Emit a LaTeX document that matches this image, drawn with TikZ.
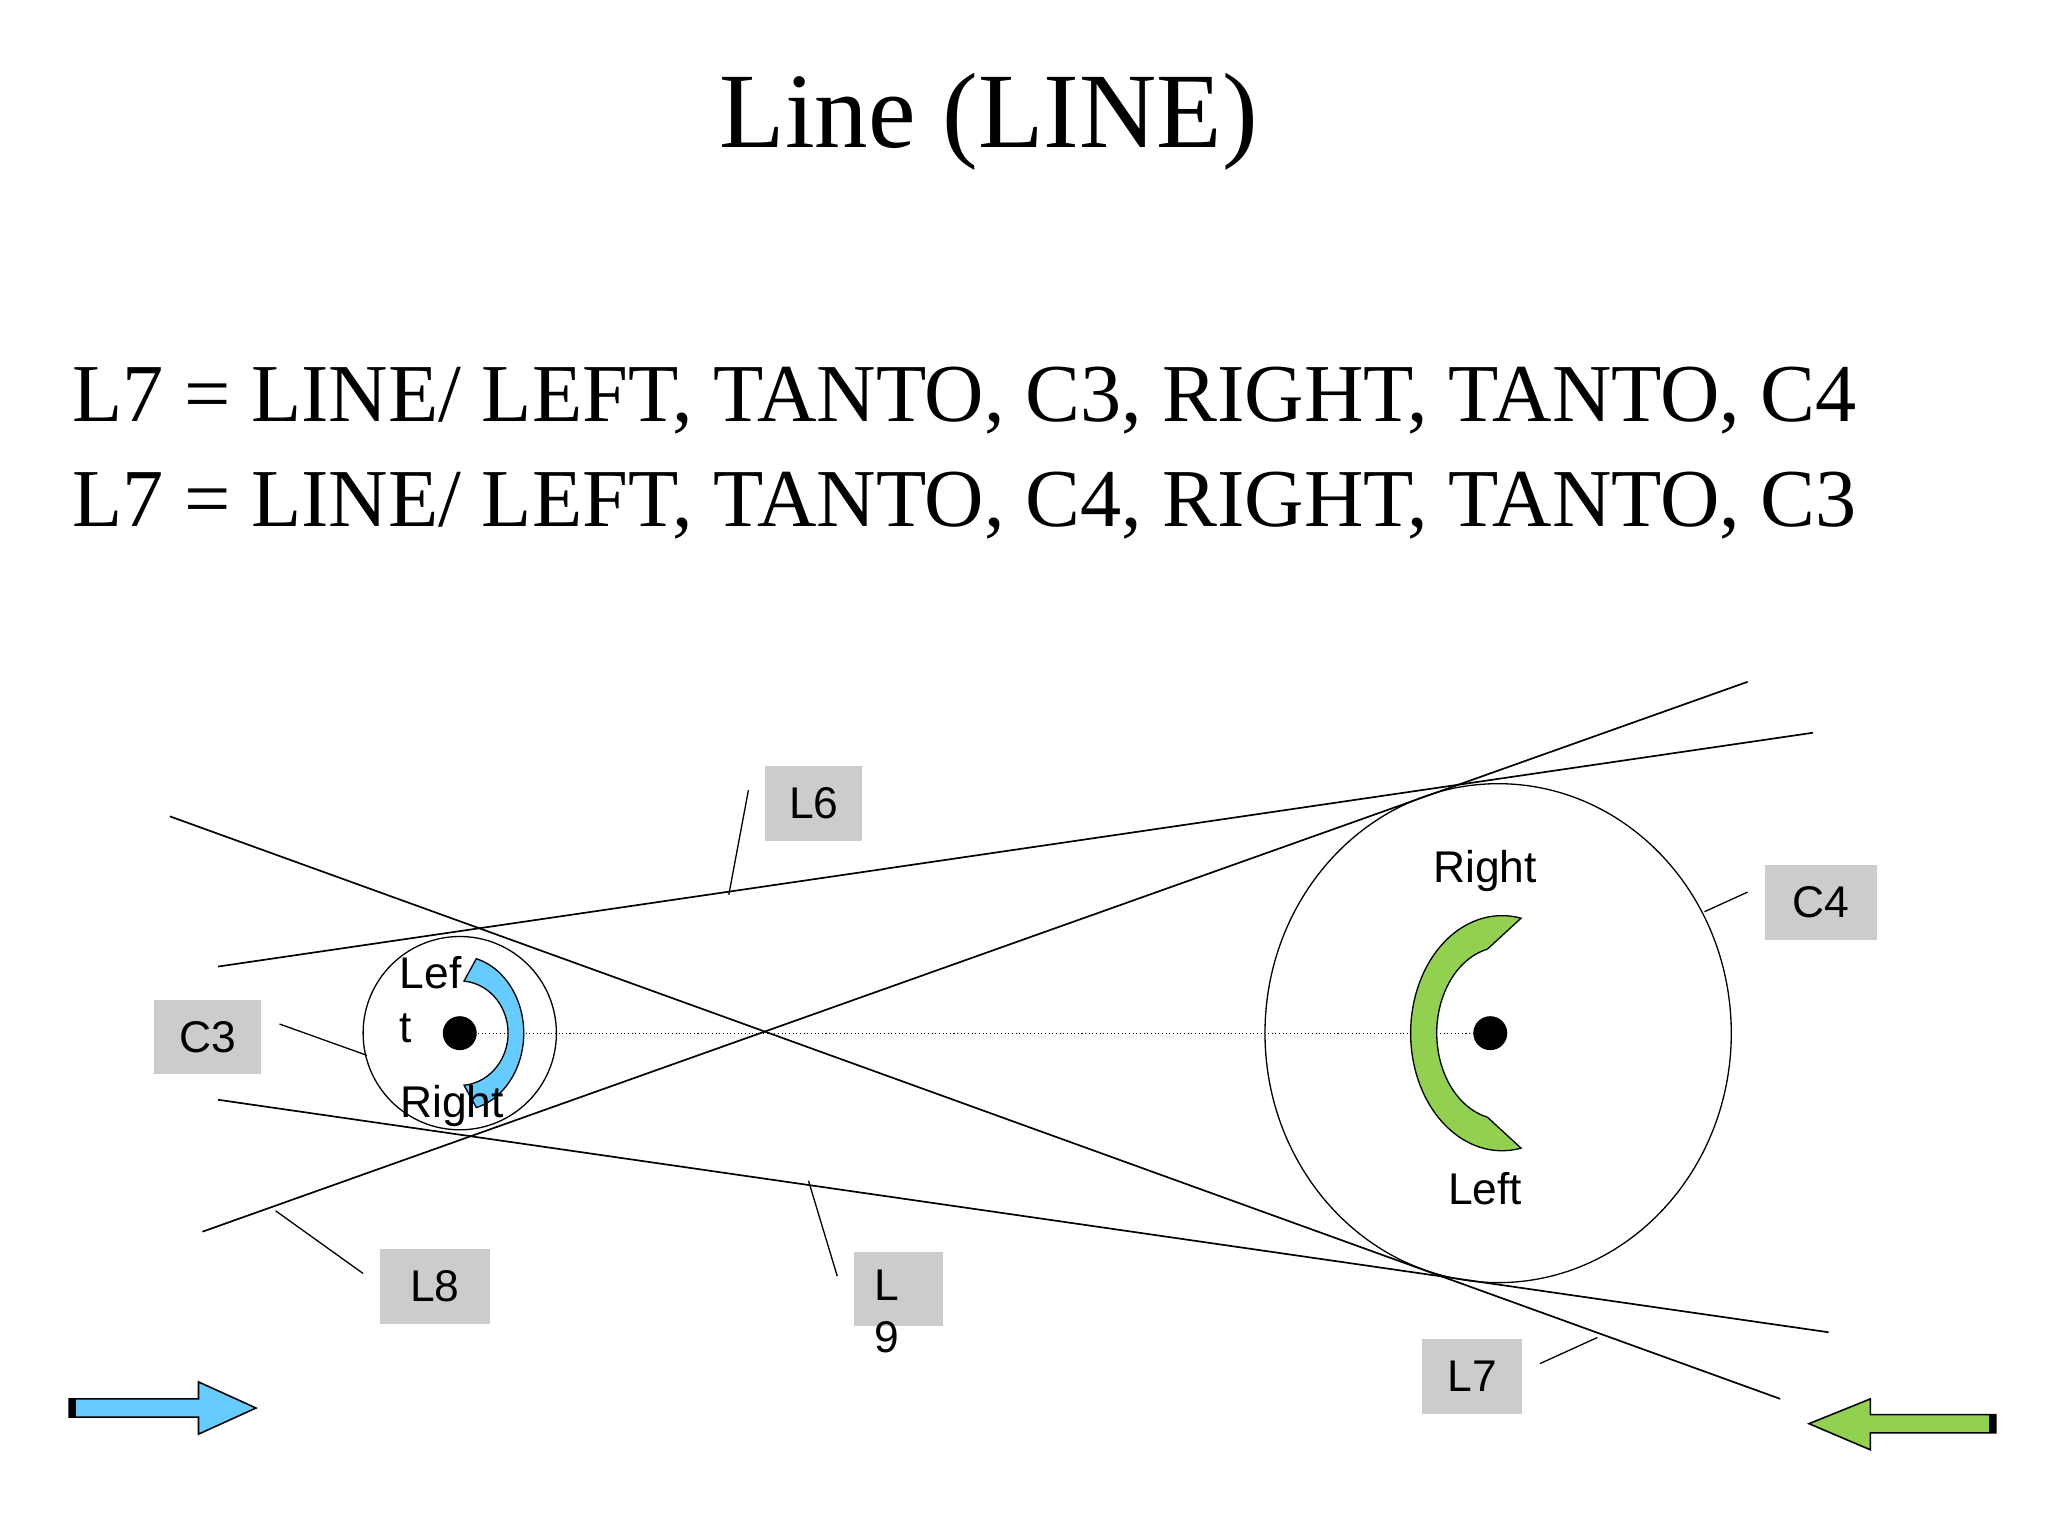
\documentclass[tikz,border=0pt]{standalone}
\usepackage{fontspec}
\setmainfont{Liberation Serif}
\newfontfamily\arialf{Liberation Sans}
\usetikzlibrary{shapes.geometric,calc}
\begin{document}
\begin{tikzpicture}[x=1pt,y=-1pt,
  lbl/.style={fill=black!20,minimum width=76pt,minimum height=57pt,font=\arialf\fontsize{34}{36}\selectfont,inner sep=0pt},
  txt/.style={font=\arialf\fontsize{34}{34}\selectfont,inner sep=0pt},
  ln/.style={line width=1.3pt},
  ld/.style={line width=1pt}]
\useasboundingbox (0,0) rectangle (1568,1176);
\node[font=\fontsize{82}{90}\selectfont] (title) at (757,93) {Line (LINE)};
\node[anchor=base west,font=\fontsize{63}{70}\selectfont,inner sep=0pt] (t1) at (55,323) {L7 = LINE/ LEFT, TANTO, C3, RIGHT, TANTO, C4};
\node[anchor=base west,font=\fontsize{63}{70}\selectfont,inner sep=0pt] (t2) at (55,403) {L7 = LINE/ LEFT, TANTO, C4, RIGHT, TANTO, C3};
% circles
\node[draw,circle,minimum size=148pt,line width=1pt] (c3) at (352,791) {};
\node[draw,ellipse,minimum width=357pt,minimum height=382pt,line width=1pt] (c4) at (1147,791) {};
\coordinate (d3) at (352,791);
\coordinate (d4) at (1141,791);
\draw[dotted,line width=0.8pt] (d3) -- (d4);
% blue C
\path[fill={rgb,255:red,102;green,204;blue,255},draw=black,line width=1pt]
  ($(352,791)+(75:49 and 59)$) arc[start angle=75,end angle=-75,x radius=49,y radius=59]
  -- ($(352,791)+(-85:37 and 40)$) arc[start angle=-85,end angle=85,x radius=37,y radius=40] -- cycle;
% green C
\path[fill={rgb,255:red,146;green,208;blue,80},draw=black,line width=1pt]
  ($(1150,791)+(78:70 and 90)$) arc[start angle=78,end angle=282,x radius=70,y radius=90]
  -- ($(1150,791)+(257:50 and 66)$) arc[start angle=257,end angle=103,x radius=50,y radius=66] -- cycle;
\fill (d3) circle[radius=13];
\fill (d4) circle[radius=13];
% lines
\coordinate (a6) at (167,740); \coordinate (b6) at (1388,561);
\coordinate (a8) at (155,943); \coordinate (b8) at (1338,522);
\coordinate (a9) at (167,842); \coordinate (b9) at (1400,1020);
\coordinate (a7) at (130,625); \coordinate (b7) at (1363,1071);
\draw[ln] (a6) -- (b6);
\draw[ln] (a8) -- (b8);
\draw[ln] (a9) -- (b9);
\draw[ln] (a7) -- (b7);
% texts in circles
\node[txt,anchor=west] (lef) at (306,745) {Lef};
\node[txt,anchor=west] (tt) at (306,787) {t};
\node[txt] (r3) at (346,847) {Right};
\node[txt] (r4) at (1137,667) {Right};
\node[txt] (l4) at (1137,910) {Left};
% labels
\node[lbl,minimum width=74pt] (L6) at (623,615) {L6};
\node[lbl,minimum width=86pt] (C4) at (1394,691) {C4};
\node[lbl,minimum width=82pt] (C3) at (159,794) {C3};
\node[lbl,minimum width=84pt] (L8) at (333,985) {L8};
\node[lbl,minimum width=68pt] (L9) at (688,987) {};
\node[txt,anchor=north west,align=left,font=\arialf\fontsize{34}{40}\selectfont] (L9t) at (669,972) {L\\9};
\node[lbl,minimum width=77pt] (L7) at (1127,1054) {L7};
% leaders
\coordinate (p6a) at (573,605); \coordinate (p6b) at (558,685);
\coordinate (p4a) at (1338,683); \coordinate (p4b) at (1305,698);
\coordinate (p3a) at (214,784); \coordinate (p3b) at (281,808);
\coordinate (p8a) at (278,975); \coordinate (p8b) at (211,927);
\coordinate (p9a) at (641,977); \coordinate (p9b) at (619,904);
\coordinate (p7a) at (1179,1044); \coordinate (p7b) at (1223,1024);
\draw[ld] (p6a)--(p6b); \draw[ld] (p4a)--(p4b); \draw[ld] (p3a)--(p3b);
\draw[ld] (p8a)--(p8b); \draw[ld] (p9a)--(p9b); \draw[ld] (p7a)--(p7b);
% arrows
\draw[fill={rgb,255:red,102;green,204;blue,255},line width=1.2pt]
  (53,1071) -- (152,1071) -- (152,1058) -- (196,1078) -- (152,1098) -- (152,1085) -- (53,1085) -- cycle;
\fill (53,1071) rectangle (58,1085);
\draw[fill={rgb,255:red,146;green,208;blue,80},line width=1.2pt]
  (1528,1083) -- (1432,1083) -- (1432,1071) -- (1385,1090) -- (1432,1110) -- (1432,1097) -- (1528,1097) -- cycle;
\fill (1523,1083) rectangle (1528,1097);
\end{tikzpicture}
\end{document}
